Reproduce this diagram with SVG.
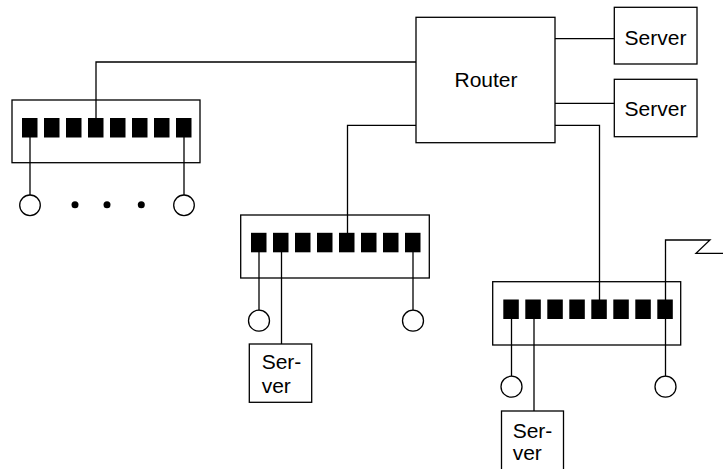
<svg xmlns="http://www.w3.org/2000/svg" width="723" height="469" viewBox="0 0 723 469">
<style>
.box{fill:#fff;stroke:#000;stroke-width:1.3}
.port{fill:#000}
.ln{fill:none;stroke:#000;stroke-width:1.3}
.ep{fill:#fff;stroke:#000;stroke-width:1.3}
text{font-family:"Liberation Sans",Arial,sans-serif;font-size:21px;fill:#000}
</style>
<defs>
<g id="ports">
<rect class="port" x="0" y="0" width="15.5" height="19.5"/>
<rect class="port" x="22" y="0" width="15.5" height="19.5"/>
<rect class="port" x="44" y="0" width="15.5" height="19.5"/>
<rect class="port" x="66" y="0" width="15.5" height="19.5"/>
<rect class="port" x="88" y="0" width="15.5" height="19.5"/>
<rect class="port" x="110" y="0" width="15.5" height="19.5"/>
<rect class="port" x="132" y="0" width="15.5" height="19.5"/>
<rect class="port" x="154" y="0" width="15.5" height="19.5"/>
</g>
</defs>
<rect width="723" height="469" fill="#fff"/>
<g id="router">
<rect class="box" x="416" y="17.3" width="139" height="125.4"/>
<text x="486" y="87.3" text-anchor="middle">Router</text>
</g>
<g id="server1">
<rect class="box" x="614.3" y="7.3" width="82.7" height="56.7"/>
<text x="655.5" y="45" text-anchor="middle">Server</text>
</g>
<g id="server2">
<rect class="box" x="614.3" y="79.3" width="82.7" height="57.4"/>
<text x="655.5" y="116" text-anchor="middle">Server</text>
</g>
<g id="switch1">
<rect class="box" x="12" y="100" width="188" height="62.7"/>
<use href="#ports" x="22" y="118"/>
</g>
<g id="switch2">
<rect class="box" x="240.7" y="215" width="188.6" height="63"/>
<use href="#ports" x="251" y="232.8"/>
</g>
<g id="switch3">
<rect class="box" x="492.7" y="281.7" width="188" height="63.3"/>
<use href="#ports" x="503.3" y="299.5"/>
</g>
<g id="hosts1">
<circle class="ep" cx="30" cy="205.3" r="10.3"/>
<circle class="ep" cx="184" cy="205.3" r="10.3"/>
<circle cx="75" cy="204.7" r="3.5"/>
<circle cx="107" cy="204.7" r="3.5"/>
<circle cx="141.3" cy="204.7" r="3.5"/>
</g>
<g id="hosts2">
<circle class="ep" cx="259" cy="320.7" r="10.5"/>
<circle class="ep" cx="413" cy="320.7" r="10.5"/>
</g>
<g id="hosts3">
<circle class="ep" cx="511.5" cy="386.7" r="10.5"/>
<circle class="ep" cx="665.5" cy="386.7" r="10.5"/>
</g>
<g id="server3">
<rect class="box" x="249.3" y="344" width="62.4" height="58.3"/>
<text x="261.7" y="368.5">Ser-</text>
<text x="261.7" y="393">ver</text>
</g>
<g id="server4">
<rect class="box" x="501.5" y="411" width="62" height="62"/>
<text x="512.7" y="437.7">Ser-</text>
<text x="512.7" y="460">ver</text>
</g>
<g id="connectors">
<path class="ln" d="M416,62 H96 V118"/>
<path class="ln" d="M416,125.3 H347.5 V233"/>
<path class="ln" d="M555,125.3 H599.5 V300"/>
<path class="ln" d="M555,38.7 H614.3"/>
<path class="ln" d="M555,103.3 H614.3"/>
<path class="ln" d="M30,137 V195"/>
<path class="ln" d="M184,137 V195"/>
<path class="ln" d="M259,252 V310.2"/>
<path class="ln" d="M281.5,252 V344"/>
<path class="ln" d="M413,252 V310.2"/>
<path class="ln" d="M511.5,319 V376.2"/>
<path class="ln" d="M534,319 V411"/>
<path class="ln" d="M665.5,319 V376.2"/>
<path class="ln" d="M665.5,300 V240 H710 L696,253.3 H723"/>
</g>
</svg>
